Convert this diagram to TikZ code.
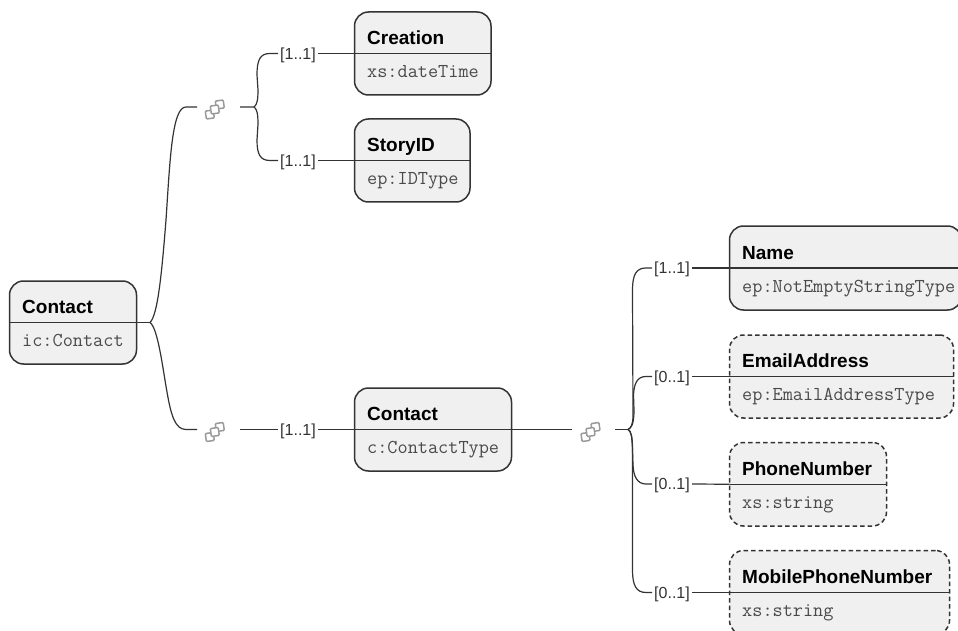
\documentclass[tikz,border=0pt]{standalone}
\usepackage{fontspec}
\setmainfont{Liberation Sans}
\tikzset{
  x=1pt,y=-1pt,
  xbox/.style={draw=boxline,fill=boxfill,line width=1.5pt,rounded corners=14pt,inner sep=0pt,outer sep=0pt,anchor=north west},
  optbox/.style={xbox,dash pattern=on 4.5pt off 3pt},
  titletext/.style={anchor=base west,inner sep=0pt,font=\bfseries\fontsize{19}{22}\selectfont,text=black},
  typetext/.style={anchor=base west,inner sep=0pt,font=\ttfamily\fontsize{19.7}{22}\selectfont,text=typegray},
  card/.style={inner sep=0pt,font=\fontsize{16}{18}\selectfont,text=boxline,minimum width=38pt,minimum height=16pt,yshift=-1.5pt},
  link/.style={draw=boxline,line width=1.2pt},
  divider/.style={draw=boxline,line width=1.3pt},
  iconsq/.style={draw=icongray,fill=white,line width=1.5pt,rounded corners=1pt,minimum size=8pt,inner sep=0pt,rotate=8},
}
\definecolor{boxline}{HTML}{333333}
\definecolor{boxfill}{HTML}{F0F0F0}
\definecolor{typegray}{HTML}{4A4A4A}
\definecolor{icongray}{HTML}{9A9A9A}
% name, style, x, y, w, h, title, type
\newcommand{\xsdbox}[8]{%
  \node[#2,minimum width=#5pt,minimum height=#6pt] (#1) at (#3,#4) {};
  \draw[divider] (#1.west) -- (#1.east);
  \node[titletext] (#1-t) at ([xshift=12.5pt,yshift=8.8pt]#1.west) {#7};
  \node[typetext] (#1-s) at ([xshift=12.5pt,yshift=-24pt]#1.west) {#8};
}
% name, x, y
\newcommand{\xsdicon}[3]{%
  \node[iconsq] (#1-a) at (#2-5,#3+5) {};
  \node[iconsq] (#1-b) at (#2+5,#3-5) {};
  \node[iconsq] (#1-c) at (#2,#3) {};
}
\begin{document}
\begin{tikzpicture}
\useasboundingbox (0,0) rectangle (958,631);
\clip (0,0) rectangle (958,631);

\xsdbox{creation}{xbox}{354.5}{12}{136.5}{83}{Creation}{xs:dateTime}
\xsdbox{story}{xbox}{354.5}{119}{115.5}{83}{StoryID}{ep:IDType}
\xsdbox{root}{xbox}{9.5}{281}{127}{83}{Contact}{ic:Contact}
\xsdbox{mid}{xbox}{354.5}{388}{157}{83}{Contact}{c:ContactType}
\xsdbox{name}{xbox}{729.5}{226}{232}{84}{Name}{ep:NotEmptyStringType}
\xsdbox{email}{optbox}{729.5}{335}{224}{83}{EmailAddress}{ep:EmailAddressType}
\xsdbox{phone}{optbox}{729.5}{442.5}{157}{83.5}{PhoneNumber}{xs:string}
\xsdbox{mobile}{optbox}{729.5}{550.5}{220}{84}{MobilePhoneNumber}{xs:string}

\xsdicon{ia}{214.8}{109.5}
\xsdicon{ib}{214.8}{432}
\xsdicon{ic}{590.5}{432}

\node[card] (c1) at (298,53.5) {[1..1]};
\node[card] (c2) at (298,160.5) {[1..1]};
\node[card] (c3) at (298,429.5) {[1..1]};
\node[card] (c4) at (672,268) {[1..1]};
\node[card] (c5) at (672,376.5) {[0..1]};
\node[card] (c6) at (672,484) {[0..1]};
\node[card] (c7) at (672,592.5) {[0..1]};

\coordinate (ja) at (197,107);
\coordinate (jb) at (240,107);
\coordinate (jc) at (197,429.5);
\coordinate (jd) at (240,429.5);
\coordinate (je) at (572,429.5);
\coordinate (jf) at (615,429.5);
\coordinate (jr) at (150,322.5);
\coordinate (ju) at (254,107);
\coordinate (jv) at (628,429.5);
\coordinate (l1) at (278,53.5);
\coordinate (l2) at (278,160.5);
\coordinate (l3) at (278,429.5);
\coordinate (r1) at (318,53.5);
\coordinate (r2) at (318,160.5);
\coordinate (r3) at (318,429.5);
\coordinate (l4) at (652,268);
\coordinate (l5) at (652,376.5);
\coordinate (l6) at (652,484);
\coordinate (l7) at (652,592.5);
\coordinate (r4) at (692,268);
\coordinate (r5) at (692,376.5);
\coordinate (r6) at (692,484);
\coordinate (r7) at (692,592.5);

% root fan
\draw[link] (root.east) -- (jr);
\draw[link] (jr) .. controls (158,315) and (162,270) .. (166,220)
  .. controls (170,160) and (172,107) .. (186,107) -- (ja);
\draw[link] (jr) .. controls (158,328) and (163,370) .. (167,392)
  .. controls (171,415) and (175,429.5) .. (186,429.5) -- (jc);

% first sequence
\draw[link] (jb) -- (ju)
  .. controls (257,105) and (258,100) .. (258,90)
  -- (257,75) .. controls (257,60) and (260,53.5) .. (270,53.5) -- (l1);
\draw[link] (ju)
  .. controls (257,109) and (258,114) .. (258,124)
  -- (257,140) .. controls (257,154) and (260,160.5) .. (270,160.5) -- (l2);
\draw[link] (r1) -- (creation.west);
\draw[link] (r2) -- (story.west);

% lower chain
\draw[link] (jd) -- (l3);
\draw[link] (r3) -- (mid.west);
\draw[link] (mid.east) -- (je);

% second sequence
\draw[link] (jf) -- (jv);
\draw[link] (jv) .. controls (631,428) and (633,425) .. (633,415)
  -- (632.5,290) .. controls (632.5,275) and (636,268) .. (646,268) -- (l4);
\draw[link] (jv) .. controls (631,428) and (634,425) .. (634,410)
  -- (633.5,395) .. controls (634,384) and (637,376.5) .. (646,376.5) -- (l5);
\draw[link] (jv) .. controls (631,431) and (632,436) .. (632.5,450)
  -- (633,465) .. controls (633.5,476) and (637,484) .. (646,484) -- (l6);
\draw[link] (jv) .. controls (631,431) and (632.5,436) .. (632.5,450)
  -- (632.5,570) .. controls (632.5,585) and (636,592.5) .. (646,592.5) -- (l7);
\draw[link] (r4) -- (name.west);
\draw[link] (r5) -- (email.west);
\draw[link] (r6) -- (phone.west);
\draw[link] (r7) -- (mobile.west);
\end{tikzpicture}
\end{document}
